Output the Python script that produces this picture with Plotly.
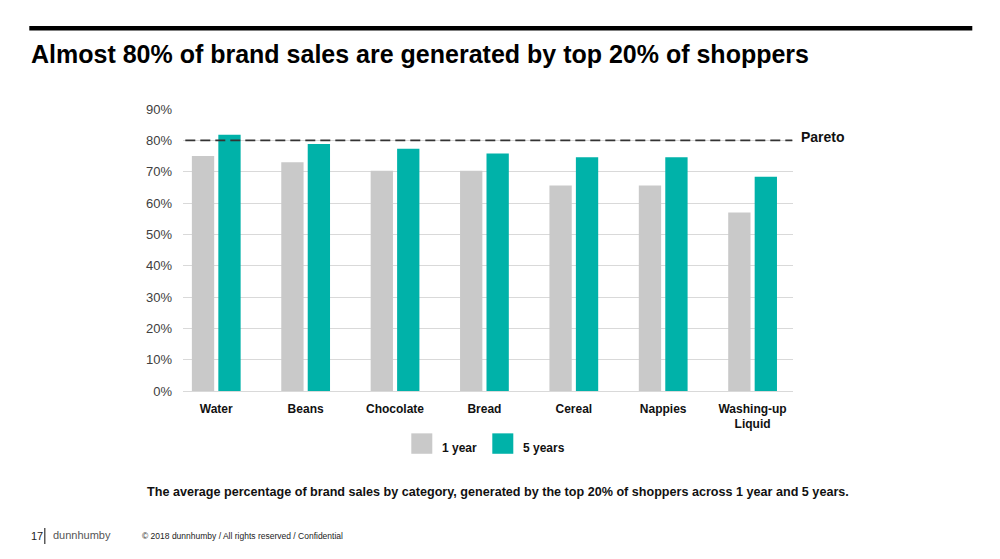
import plotly.graph_objects as go

# Datos del gráfico
categorias = ['Water', 'Beans', 'Chocolate', 'Bread', 'Cereal', 'Nappies', 'Washing-up<br>Liquid']
ventas_1_anio = [75, 73, 70.3, 70.3, 65.6, 65.6, 57]
ventas_5_anios = [81.8, 78.8, 77.3, 75.8, 74.6, 74.6, 68.4]
pareto = 80
ticks_y = [0, 10, 20, 30, 40, 50, 60, 70, 80, 90]
ticks_y_texto = [f'{v}%' for v in ticks_y]

GRIS = '#c9c9c9'
TEAL = '#00b2a9'
FUENTE = 'Liberation Sans, Arial, sans-serif'

# La página tiene 8px de margen en el body; el área del gráfico queda en x 182.7-792.7, y 108.5-391.5
OFFSET = 8


def px_x(v):
    return (v - 182.7) / 610


def px_y(v):
    return (391.5 - v) / 283


fig = go.Figure()

fig.add_trace(go.Bar(x=categorias, y=ventas_1_anio, name='1 year',
                     marker=dict(color=GRIS, line=dict(width=0))))
fig.add_trace(go.Bar(x=categorias, y=ventas_5_anios, name='5 years',
                     marker=dict(color=TEAL, line=dict(width=0))))

# Línea de Pareto
fig.add_shape(type='line', xref='paper', yref='y', x0=px_x(185), x1=px_x(792), y0=pareto, y1=pareto,
              line=dict(color='#333333', width=1.8, dash='10px,5px'))
fig.add_annotation(text='<b>Pareto</b>', xref='paper', yref='paper', x=px_x(799), y=px_y(137),
                   xanchor='left', yanchor='middle', showarrow=False,
                   font=dict(size=14, color='#111111', family=FUENTE))

# Barra negra superior y título
fig.add_shape(type='line', xref='paper', yref='paper',
              x0=px_x(29), x1=px_x(972), y0=px_y(27.5), y1=px_y(27.5),
              line=dict(color='#000000', width=4.5))
fig.add_annotation(text='<b>Almost 80% of brand sales are generated by top 20% of shoppers</b>',
                   xref='paper', yref='paper', x=px_x(29), y=px_y(53),
                   xanchor='left', yanchor='middle', showarrow=False,
                   font=dict(size=25, color='#000000', family=FUENTE))

# Leyenda manual
for x0, color, texto in [(411, GRIS, '1 year'), (492, TEAL, '5 years')]:
    fig.add_shape(type='rect', xref='paper', yref='paper',
                  x0=px_x(x0), x1=px_x(x0 + 21), y0=px_y(434), y1=px_y(454.5),
                  fillcolor=color, line=dict(width=0))
    fig.add_annotation(text=f'<b>{texto}</b>', xref='paper', yref='paper',
                       x=px_x(x0 + 29), y=px_y(448.5), xanchor='left', yanchor='middle',
                       showarrow=False, font=dict(size=12, color='#111111', family=FUENTE))

# Nota y pie de página
fig.add_annotation(text='<b>The average percentage of brand sales by category, generated by the top 20% of shoppers across 1 year and 5 years.</b>',
                   xref='paper', yref='paper', x=px_x(498), y=px_y(493),
                   xanchor='center', yanchor='middle', showarrow=False,
                   font=dict(size=12.6, color='#111111', family=FUENTE))
fig.add_annotation(text='17', xref='paper', yref='paper', x=px_x(29), y=px_y(537),
                   xanchor='left', yanchor='middle', showarrow=False,
                   font=dict(size=11, color='#222222', family=FUENTE))
fig.add_shape(type='line', xref='paper', yref='paper', x0=px_x(44.5), x1=px_x(44.5),
              y0=px_y(529), y1=px_y(545), line=dict(color='#333333', width=1.2))
fig.add_annotation(text='dunnhumby', xref='paper', yref='paper', x=px_x(51), y=px_y(536),
                   xanchor='left', yanchor='middle', showarrow=False,
                   font=dict(size=11, color='#555555', family=FUENTE))
fig.add_annotation(text='© 2018 dunnhumby / All rights reserved / Confidential',
                   xref='paper', yref='paper', x=px_x(140), y=px_y(537.5),
                   xanchor='left', yanchor='middle', showarrow=False,
                   font=dict(size=8.5, color='#222222', family=FUENTE))

fig.update_layout(
    width=1000, height=559,
    margin=dict(l=182.7 - OFFSET, r=207.3 + OFFSET, t=108.5 - OFFSET, b=167.5 + OFFSET, pad=0),
    paper_bgcolor='white', plot_bgcolor='white',
    barmode='group', bargap=0.408, bargroupgap=0.157,
    showlegend=False,
    font=dict(family=FUENTE, color='#404040'),
    xaxis=dict(range=[-0.372, 6.452], showgrid=False, showline=True, linecolor='#d9d9d9',
               linewidth=1.2, ticks='', tickfont=dict(size=12, color='#111111', family=FUENTE),
               ticklabelstandoff=6, tickprefix='<b>', ticksuffix='</b>'),
    yaxis=dict(range=[0, 90], tickvals=ticks_y, ticktext=ticks_y_texto, showgrid=True,
               gridcolor='#d9d9d9', gridwidth=1.2, zeroline=False, showline=False, ticks='',
               tickfont=dict(size=13, color='#404040', family=FUENTE), ticklabelstandoff=10),
)

fig.write_html('out.html')
